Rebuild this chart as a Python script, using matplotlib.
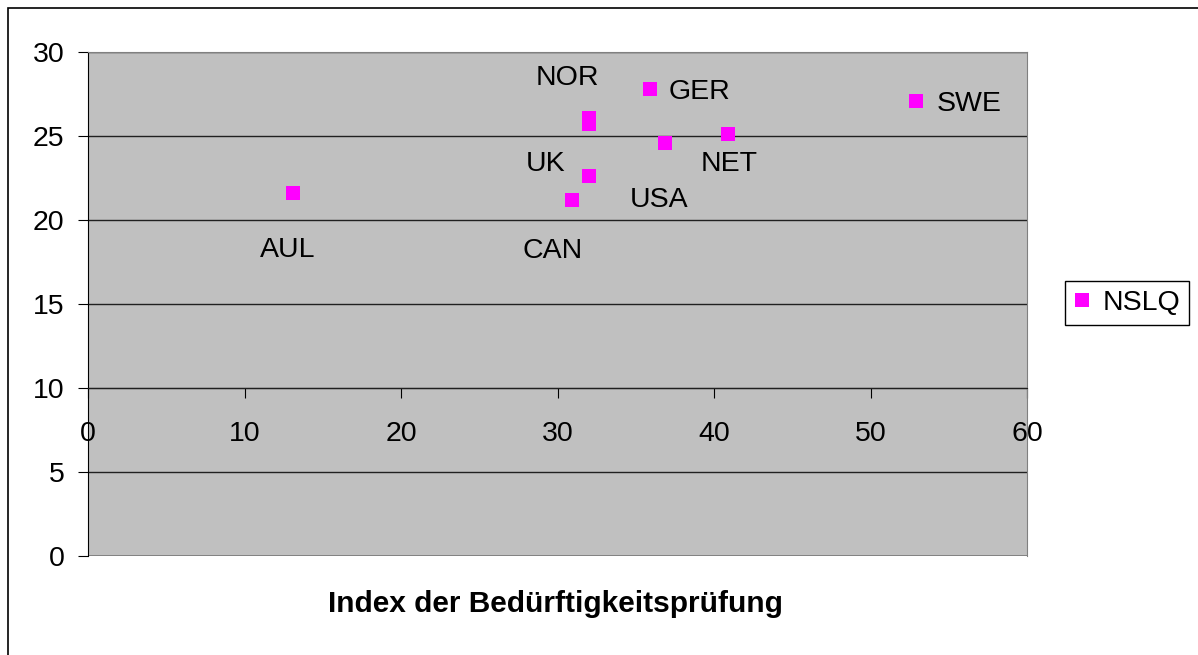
import matplotlib.pyplot as plt
from matplotlib.patches import Rectangle

plt.rcParams['font.family'] = ['Liberation Sans', 'DejaVu Sans']

# Werte
countries = ["AUL", "CAN", "UK", "NOR", "", "GER", "USA", "NET", "SWE"]
index_bp = [13.1, 30.9, 32.0, 32.0, 32.0, 35.9, 36.9, 40.9, 52.9]
nslq = [21.6, 21.2, 22.6, 26.1, 25.7, 27.8, 24.6, 25.1, 27.1]

# Lage der Beschriftungen relativ zum Punkt (Pixel)
label_offsets = {
    "AUL": (-5, -57), "CAN": (-19, -51), "UK": (-43, 12), "NOR": (-21, 40),
    "GER": (50, -3), "USA": (-6, -57), "NET": (1, -30), "SWE": (53, -3),
}

fig = plt.figure(figsize=(11.98, 6.55), dpi=100)
fig.patches.append(Rectangle((8 / 1198, -0.1), 1.2, 1.1 - 8 / 655,
                             transform=fig.transFigure, fill=False,
                             edgecolor="black", lw=1.2))
ax = fig.add_axes([88 / 1198, 99 / 655, 939 / 1198, 504 / 655])
ax.set_facecolor("#C0C0C0")

ax.plot(index_bp, nslq, linestyle="none", marker="s", markersize=10,
        color="#FF00FF", markeredgewidth=0, label="NSLQ", zorder=3)

for name, x, y in zip(countries, index_bp, nslq):
    if not name:
        continue
    dx, dy = label_offsets[name]
    ax.annotate(name, (x, y), xytext=(dx, dy), textcoords="offset pixels",
                ha="center", va="center", fontsize=20.5)

ax.set_xlim(0, 60)
ax.set_ylim(0, 30)
ax.set_xticks(range(0, 61, 10))
ax.set_yticks(range(0, 31, 5))
ax.yaxis.grid(True, color="#202020", lw=1)
ax.set_axisbelow(True)
ax.axhline(0, color="#808080", lw=2, zorder=2)

ax.spines["bottom"].set_position(("data", 10))
ax.spines["bottom"].set_color("#202020")
ax.spines["top"].set_color("#808080")
ax.spines["right"].set_color("#808080")
ax.spines["left"].set_color("black")
ax.tick_params(axis="x", direction="out", length=7, pad=17, labelsize=20.5)
ax.tick_params(axis="y", direction="out", length=7, pad=10, labelsize=20.5)

fig.text(555 / 1198, 1 - 604 / 655, "Index der Bedürftigkeitsprüfung",
         ha="center", va="center", fontsize=21.5, fontweight="bold")

leg = fig.legend(loc="center", bbox_to_anchor=(1127 / 1198, 1 - 303 / 655),
                 fontsize=20.5, frameon=True, fancybox=False, edgecolor="black",
                 handlelength=0.6, handletextpad=0.45, borderpad=0.3,
                 borderaxespad=0, framealpha=1)
leg.get_frame().set_linewidth(1)

plt.savefig("out.png", dpi=100)
